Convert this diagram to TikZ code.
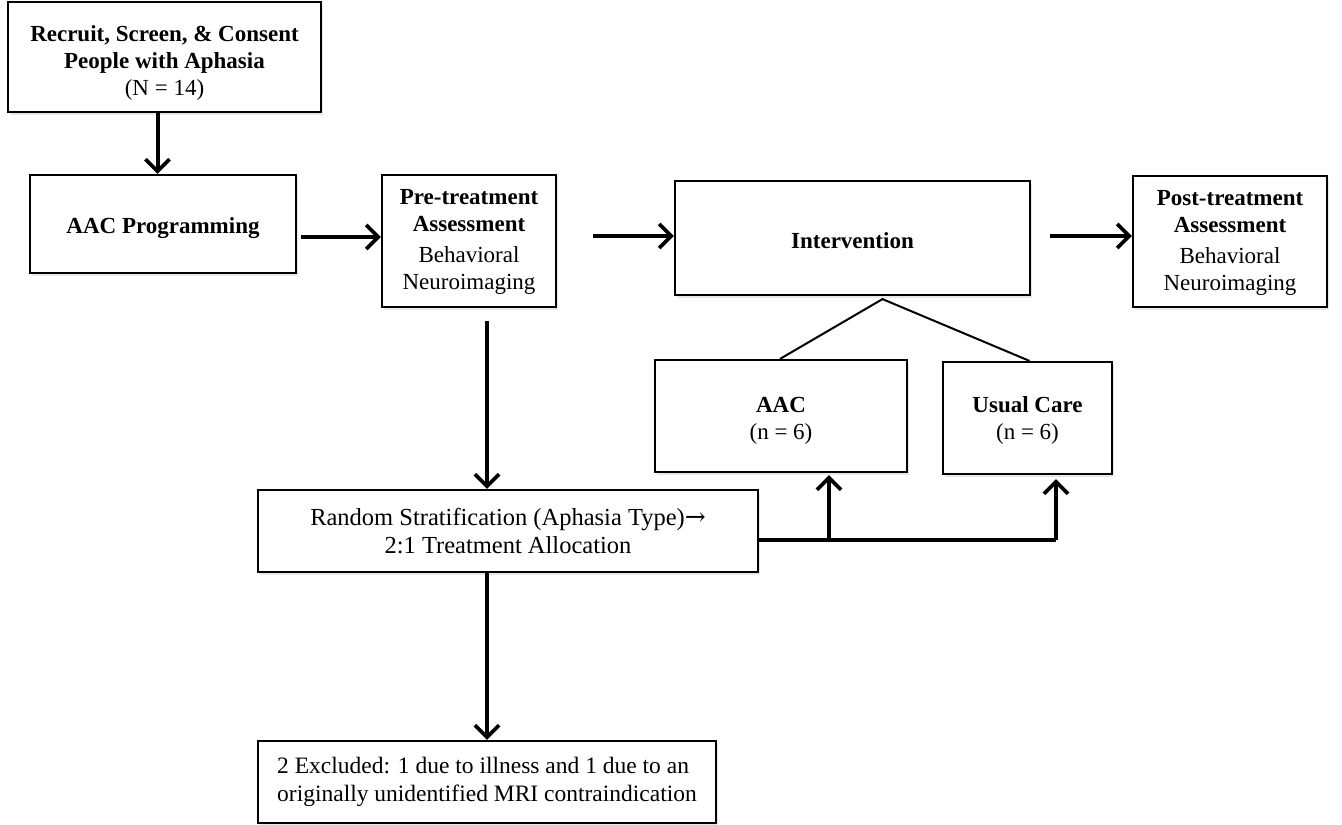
\documentclass[tikz,border=0pt]{standalone}
\usepackage{fontspec}
\setmainfont{Liberation Serif}
\newfontfamily\arrowfont{DejaVu Serif}
\usetikzlibrary{arrows.meta,calc,shadows}
\newcommand{\lowered}[2]{\raisebox{#1}[\height][\depth]{\begin{tabular}{@{}c@{}}#2\end{tabular}}}
\begin{document}
\begin{tikzpicture}[x=1pt,y=-1pt,
  box/.style={draw,line width=2.2pt,rectangle,inner sep=0pt,align=center,fill=white,
    drop shadow={shadow xshift=2pt,shadow yshift=-2.5pt,opacity=0.18},
    font=\fontsize{23}{27}\selectfont},
  big/.style={font=\fontsize{24.5}{27.5}\selectfont},
  arr/.style={line width=4pt,-{Straight Barb[length=12pt,width=24pt,line width=3.8pt]}},
  thin/.style={line width=2pt}]
\useasboundingbox (0,0) rectangle (1342,825);
\node[box,minimum width=313pt,minimum height=110pt] (rec) at (164.5,57)
  {\lowered{-6pt}{\textbf{Recruit, Screen, \& Consent}\\\textbf{People with Aphasia}\\(N = 14)}};
\node[box,minimum width=266pt,minimum height=98pt] (prog) at (163,224) {\lowered{-4pt}{\textbf{AAC Programming}}};
\node[box,minimum width=174pt,minimum height=132pt] (pre) at (469,241)
  {\lowered{-1pt}{\textbf{Pre-treatment}\\\textbf{Assessment}\\[4pt]Behavioral\\Neuroimaging}};
\node[box,minimum width=355pt,minimum height=114pt] (int) at (852.5,238) {\lowered{-5pt}{\textbf{Intervention}}};
\node[box,minimum width=194pt,minimum height=131pt] (post) at (1230,241.5)
  {\lowered{-1pt}{\textbf{Post-treatment}\\\textbf{Assessment}\\[4pt]Behavioral\\Neuroimaging}};
\node[box,minimum width=252pt,minimum height=112pt] (aac) at (781,416) {\lowered{-5pt}{\textbf{AAC}\\(n = 6)}};
\node[box,minimum width=169pt,minimum height=112pt] (uc) at (1027.5,418) {\lowered{-3pt}{\textbf{Usual Care}\\(n = 6)}};
\node[box,big,minimum width=500pt,minimum height=82pt] (rand) at (508,531)
  {Random Stratification (Aphasia Type){\arrowfont\fontsize{25}{27}\selectfont →}\\2:1 Treatment Allocation};
\node[box,align=left,minimum width=458pt,minimum height=82pt,font=\fontsize{23.5}{27.5}\selectfont] (exc) at (487,782)
  {2 Excluded: 1 due to illness and 1 due to an\\originally unidentified MRI contraindication};
% arrows
\draw[arr] ($(rec.south)+(-7,0)$) -- ($(rec.south |- prog.north)+(-7,0)$);
\draw[arr] ($(prog.east)+(4,13)$) -- ($(pre.west |- prog.east)+(0,13)$);
\draw[arr] ($(pre.east)+(36,-5)$) -- ($(int.west |- pre.east)+(0,-5)$);
\draw[arr] ($(int.east)+(19,-2)$) -- ($(post.west |- int.east)+(0,-2)$);
\draw[arr] ($(pre.south)+(18,13)$) -- ($(pre.south |- rand.north)+(18,0)$);
\draw[arr] ($(rand.south)+(-21,0)$) -- ($(rand.south |- exc.north)+(-21,0)$);
% branch
\coordinate (br1) at ($(rand.east)+(0,9)$);
\coordinate (br2) at (1056,540);
\draw[line width=4pt] (br1) -- (br2);
\draw[arr] (829,540) -- ($(aac.south)+(48,2)$);
\draw[arr] (br2) -- ($(uc.south)+(28.5,4)$);
% intervention split
\coordinate (apex) at ($(int.south)+(30,3)$);
\draw[thin] ($(aac.north)+(-1,0)$) -- (apex) -- ($(uc.north)+(2,0)$);
\end{tikzpicture}
\end{document}
